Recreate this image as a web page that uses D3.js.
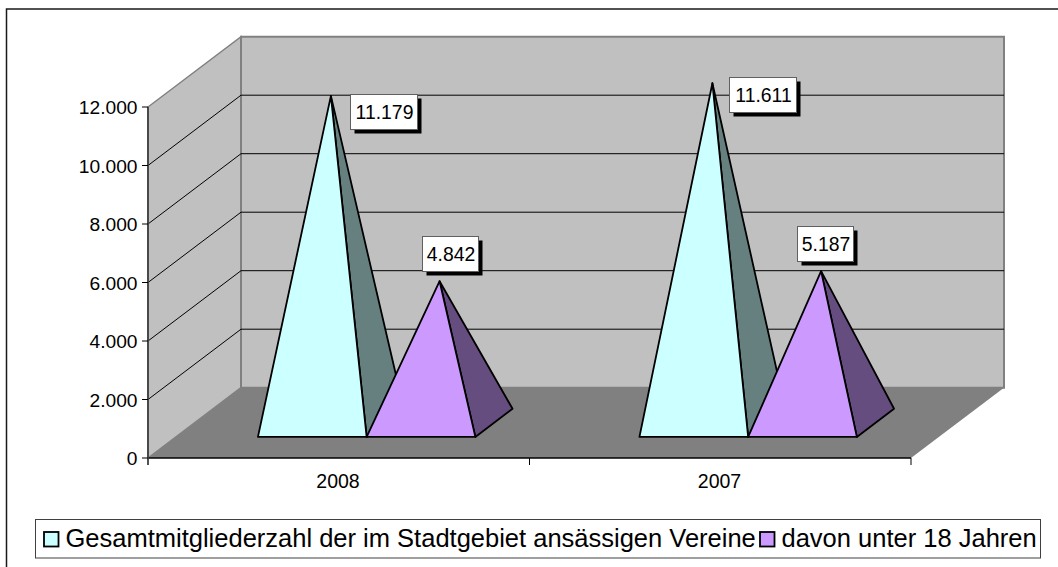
<!DOCTYPE html>
<html><head><meta charset="utf-8">
<script src="https://cdn.jsdelivr.net/npm/d3@7/dist/d3.min.js"></script>
<style>html,body{margin:0;padding:0;background:#fff}svg{display:block}text{font-family:"Liberation Sans",Arial,sans-serif;fill:#000}</style>
</head><body><svg id="c" width="1058" height="567"></svg>
<script>
const categories = ["2008","2007"];
const seriesNames = ["Gesamtmitgliederzahl der im Stadtgebiet ansässigen Vereine","davon unter 18 Jahren"];
const seriesValues = [[11179,11611],[4842,5187]];
const valueLabels = [["11.179","11.611"],["4.842","5.187"]];
const yTicks = [0,2000,4000,6000,8000,10000,12000];
const yTickLabels = ["0","2.000","4.000","6.000","8.000","10.000","12.000"];
const frontColors = ["#CCFFFF","#CC99FF"];
const sideColors = ["#668080","#664D80"];
// label box top-left offset relative to apex
const labelOffset = [[[19,-2],[17,-6]],[[-18,-45],[-24,-45]]];

const svg = d3.select("#c");
svg.append("path").attr("d","M6.5,567V9H1058").attr("fill","none").attr("stroke","#1a1a1a").attr("stroke-width",1.5);

const x = d3.scaleBand().domain(categories).range([148,911]);
const y = d3.scaleLinear().domain([0,12000]).range([458,107]);
const dx = d3.scaleLinear().domain([0,1]).range([0,93]);
const dy = d3.scaleLinear().domain([0,1]).range([0,-70.3]);
const P = (px,v,d)=>[px+dx(d), y(v)+dy(d)];
const line = d3.line();
const poly = pts => line(pts)+"Z";
const [x0,x1] = x.range(), yMax = yTicks[yTicks.length-1];

// walls
svg.append("path").attr("d",poly([P(x0,0,0),P(x0,0,1),P(x0,yMax,1),P(x0,yMax,0)])).attr("fill","#C0C0C0").attr("stroke","#808080").attr("stroke-width",1.5);
svg.append("path").attr("d",poly([P(x0,0,1),P(x1,0,1),P(x1,yMax,1),P(x0,yMax,1)])).attr("fill","#C0C0C0").attr("stroke","#808080").attr("stroke-width",2);
svg.append("path").attr("d",poly([P(x0,0,0),P(x1,0,0),P(x1,0,1),P(x0,0,1)])).attr("fill","#808080");

// gridlines
yTicks.slice(1,-1).forEach(t=>{
  svg.append("path").attr("d",line([P(x0,t,0),P(x0,t,1),P(x1,t,1)])).attr("fill","none").attr("stroke","#000").attr("stroke-width",1);
});
svg.append("path").attr("d",line([P(x0,0,0),P(x1,0,0)])).attr("stroke","#000").attr("stroke-width",1.5);

// axes
svg.append("line").attr("x1",x0).attr("x2",x0).attr("y1",y(12000)).attr("y2",y(0)+7).attr("stroke","#404040").attr("stroke-width",1.8);
const yAxis = svg.append("g").selectAll("g").data(yTicks).join("g");
yAxis.append("line").attr("x1",x0-6).attr("x2",x0).attr("y1",d=>y(d)).attr("y2",d=>y(d)).attr("stroke","#000");
yAxis.append("text").attr("x",x0-10.5).attr("y",d=>y(d)+7).attr("text-anchor","end").attr("font-size",19.2).text((d,i)=>yTickLabels[i]);
[x(categories[1]),x1].forEach(px=>svg.append("line").attr("x1",px).attr("x2",px).attr("y1",y(0)).attr("y2",y(0)+7).attr("stroke","#000"));
svg.append("g").selectAll("text").data(categories).join("text")
  .attr("x",c=>x(c)+x.bandwidth()/2-0.75).attr("y",488).attr("text-anchor","middle").attr("font-size",19.5).text(c=>c);

// pyramids
const inner = d3.scaleBand().domain([0,1]).range([-108.7,108.7]);
const d0=0.30,d1=0.70,dm=(d0+d1)/2;
const labels=[];
seriesValues.forEach((vals,s)=>{
  vals.forEach((v,i)=>{
    const c = x(categories[i])+x.bandwidth()/2;
    const l = c+inner(s), r = l+inner.bandwidth();
    const apex = P((l+r)/2,v,dm);
    const fl=P(l,0,d0), fr=P(r,0,d0), rr=P(r,0,d1);
    svg.append("path").attr("d",poly([fr,rr,apex])).attr("fill",sideColors[s]).attr("stroke","#000").attr("stroke-width",1.8).attr("stroke-linejoin","round");
    svg.append("path").attr("d",poly([fl,fr,apex])).attr("fill",frontColors[s]).attr("stroke","#000").attr("stroke-width",1.8).attr("stroke-linejoin","round");
    labels.push({a:apex,t:valueLabels[s][i],o:labelOffset[s][i]});
  });
});
labels.forEach(b=>{
  const bx=Math.round(b.a[0]+b.o[0]), by=Math.round(b.a[1]+b.o[1]);
  const w=b.t.length>5?67:56, h=35;
  svg.append("rect").attr("x",bx+4.5).attr("y",by+4.5).attr("width",w).attr("height",h).attr("fill","#000");
  svg.append("rect").attr("x",bx+.5).attr("y",by+.5).attr("width",w).attr("height",h).attr("fill","#fff").attr("stroke","#606060");
  svg.append("text").attr("x",bx+w/2+1).attr("y",by+25).attr("text-anchor","middle").attr("font-size",19.4).text(b.t);
});

// legend
svg.append("rect").attr("x",35.5).attr("y",519.5).attr("width",1005).attr("height",38.5).attr("fill","#fff").attr("stroke","#404040");
const legendX=[44,760];
seriesNames.forEach((n,i)=>{
  svg.append("rect").attr("x",legendX[i]).attr("y",532).attr("width",14.5).attr("height",14.5).attr("fill",frontColors[i]).attr("stroke","#000").attr("stroke-width",1.8);
  svg.append("text").attr("x",legendX[i]+21.5).attr("y",546.5).attr("font-size",25.5).text(n);
});
</script></body></html>
